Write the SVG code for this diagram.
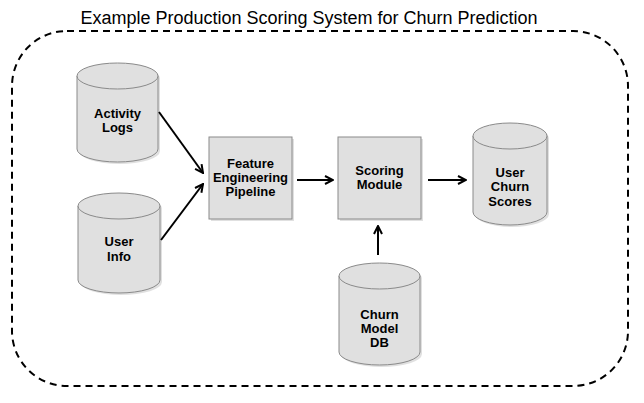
<svg xmlns="http://www.w3.org/2000/svg" width="644" height="403" viewBox="0 0 644 403">
<style>
.shape{fill:#e0e0e0;stroke:#8a8a8a;stroke-width:1}
.shadow{fill:#000;opacity:0.12}
.lbl{font-family:"Liberation Sans",Arial,sans-serif;font-size:13px;font-weight:bold;fill:#000;text-anchor:middle}
.conn{stroke:#000;stroke-width:2;fill:none}
.title{font-family:"Liberation Sans",Arial,sans-serif;font-size:18px;fill:#000;text-anchor:middle}
</style>
<defs>
<marker id="arr" viewBox="0 0 10 10" refX="9" refY="5" markerWidth="10" markerHeight="10" markerUnits="userSpaceOnUse" orient="auto">
<path d="M1,1 L9,5 L1,9" fill="none" stroke="#000" stroke-width="2"/>
</marker>
</defs>
<rect x="0" y="0" width="644" height="403" fill="#fff"/>
<text class="title" x="309" y="24">Example Production Scoring System for Churn Prediction</text>
<rect x="12" y="31" width="616" height="355" rx="55" ry="55" fill="none" stroke="#000" stroke-width="2" stroke-dasharray="7,5"/>

<g id="activity-logs">
<path class="shadow" d="M79,78 a40.5,13 0 0 1 81,0 V151 a40.5,13 0 0 1 -81,0 Z"/>
<path class="shape" d="M77,76 a40.5,13 0 0 1 81,0 V149 a40.5,13 0 0 1 -81,0 Z"/>
<path class="shape" fill="none" d="M77,76 a40.5,13 0 0 0 81,0"/>
<text class="lbl" x="117.5" y="118">Activity</text>
<text class="lbl" x="117.5" y="132">Logs</text>
</g>

<g id="user-info">
<path class="shadow" d="M80,208 a41,13 0 0 1 82,0 V282 a41,13 0 0 1 -82,0 Z"/>
<path class="shape" d="M78,206 a41,13 0 0 1 82,0 V280 a41,13 0 0 1 -82,0 Z"/>
<path class="shape" fill="none" d="M78,206 a41,13 0 0 0 82,0"/>
<text class="lbl" x="119" y="246">User</text>
<text class="lbl" x="119" y="261">Info</text>
</g>

<g id="feature-engineering">
<rect class="shadow" x="211" y="139" width="83" height="82"/>
<rect class="shape" x="209" y="137" width="83" height="82"/>
<text class="lbl" x="250.5" y="168">Feature</text>
<text class="lbl" x="250.5" y="182">Engineering</text>
<text class="lbl" x="250.5" y="196">Pipeline</text>
</g>

<g id="scoring-module">
<rect class="shadow" x="340" y="139" width="83" height="82"/>
<rect class="shape" x="338" y="137" width="83" height="82"/>
<text class="lbl" x="379.5" y="175">Scoring</text>
<text class="lbl" x="379.5" y="189">Module</text>
</g>

<g id="user-churn-scores">
<path class="shadow" d="M475,138 a37,13 0 0 1 74,0 V214 a37,13 0 0 1 -74,0 Z"/>
<path class="shape" d="M473,136 a37,13 0 0 1 74,0 V212 a37,13 0 0 1 -74,0 Z"/>
<path class="shape" fill="none" d="M473,136 a37,13 0 0 0 74,0"/>
<text class="lbl" x="510" y="177">User</text>
<text class="lbl" x="510" y="191">Churn</text>
<text class="lbl" x="510" y="206">Scores</text>
</g>

<g id="churn-model-db">
<path class="shadow" d="M341,278 a40.5,13 0 0 1 81,0 V354 a40.5,13 0 0 1 -81,0 Z"/>
<path class="shape" d="M339,276 a40.5,13 0 0 1 81,0 V352 a40.5,13 0 0 1 -81,0 Z"/>
<path class="shape" fill="none" d="M339,276 a40.5,13 0 0 0 81,0"/>
<text class="lbl" x="379.5" y="319">Churn</text>
<text class="lbl" x="379.5" y="333">Model</text>
<text class="lbl" x="379.5" y="347">DB</text>
</g>

<g id="connectors">
<line class="conn" x1="159" y1="112" x2="203" y2="173" marker-end="url(#arr)"/>
<line class="conn" x1="161" y1="240" x2="203" y2="184" marker-end="url(#arr)"/>
<line class="conn" x1="297" y1="180" x2="333" y2="180" marker-end="url(#arr)"/>
<line class="conn" x1="428" y1="180" x2="466" y2="180" marker-end="url(#arr)"/>
<line class="conn" x1="378" y1="255" x2="378" y2="226" marker-end="url(#arr)"/>
</g>
</svg>
